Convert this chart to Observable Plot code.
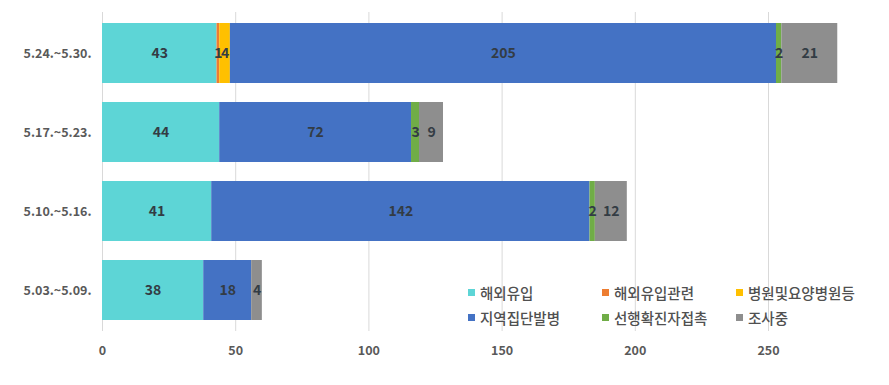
<!DOCTYPE html>
<html>
<head>
<meta charset="utf-8">
<script src="https://cdn.jsdelivr.net/npm/d3@7"></script>
<script src="https://cdn.jsdelivr.net/npm/@observablehq/plot@0.6"></script>
<style>
  body { margin: 0; background: #fff; }
  #wrap { position: relative; width: 889px; height: 385px; font-family: "Noto Sans CJK KR", "Noto Sans", sans-serif; }
  #legend { position: absolute; left: 468px; top: 281px; width: 410px; display: grid; grid-template-columns: 134px 134px 140px; row-gap: 3px; font-size: 14.5px; font-weight: 500; color: #505050; }
  .item { display: flex; align-items: center; height: 22px; white-space: nowrap; }
  .sw { width: 7px; height: 7px; margin-right: 5px; display: inline-block; }
</style>
</head>
<body>
<div id="wrap"><div id="legend"></div></div>
<script>
const weeks = ["5.24.~5.30.", "5.17.~5.23.", "5.10.~5.16.", "5.03.~5.09."];
const seriesNames = ["해외유입", "해외유입관련", "병원및요양병원등", "지역집단발병", "선행확진자접촉", "조사중"];
const seriesColors = ["#5DD5D6", "#ED7D31", "#FFC000", "#4472C4", "#70AD47", "#8E8E8E"];
const values = {
  "해외유입":       [43, 44, 41, 38],
  "해외유입관련":   [1, 0, 0, 0],
  "병원및요양병원등": [4, 0, 0, 0],
  "지역집단발병":   [205, 72, 142, 18],
  "선행확진자접촉": [2, 3, 2, 0],
  "조사중":         [21, 9, 12, 4]
};
const xTicks = [0, 50, 100, 150, 200, 250];

const data = [];
seriesNames.forEach(s => weeks.forEach((w, i) => data.push({week: w, series: s, value: values[s][i]})));
const nonZero = data.filter(d => d.value > 0);

const chart = Plot.plot({
  width: 889,
  height: 385,
  marginLeft: 102,
  marginRight: 121,
  marginTop: 12,
  marginBottom: 54,
  style: { fontFamily: "'Noto Sans CJK KR', 'Noto Sans', sans-serif", background: "#fff" },
  x: { domain: [0, 250], range: [102, 768], ticks: xTicks, label: null },
  y: { domain: weeks, range: [12, 331], paddingInner: 0.24, paddingOuter: 0.12, label: null },
  color: { domain: seriesNames, range: seriesColors },
  marks: [
    Plot.ruleX(xTicks, { stroke: "#d9d9d9", strokeWidth: 1 }),
    Plot.barX(nonZero, Plot.stackX({ x: "value", y: "week", fill: "series", z: "series", order: seriesNames })),
    Plot.text(nonZero, Plot.stackX({ x: "value", y: "week", z: "series", order: seriesNames, text: d => String(d.value), fill: "#333c44", fontSize: 14, fontWeight: "bold" })),
    Plot.axisX({ ticks: xTicks, tickSize: 0, tickPadding: 15, fontSize: 12.5, fontWeight: "bold", color: "#595959" }),
    Plot.axisY({ tickSize: 0, tickPadding: 11, fontSize: 12.5, fontWeight: "bold", color: "#595959" })
  ]
});
document.getElementById("wrap").prepend(chart);
chart.style.position = "absolute"; chart.style.left = "0"; chart.style.top = "0";

const legend = document.getElementById("legend");
seriesNames.forEach((s, i) => {
  const it = document.createElement("div");
  it.className = "item";
  const sw = document.createElement("span");
  sw.className = "sw";
  sw.style.background = seriesColors[i];
  it.appendChild(sw);
  it.appendChild(document.createTextNode(s));
  legend.appendChild(it);
});
</script>
</body>
</html>
